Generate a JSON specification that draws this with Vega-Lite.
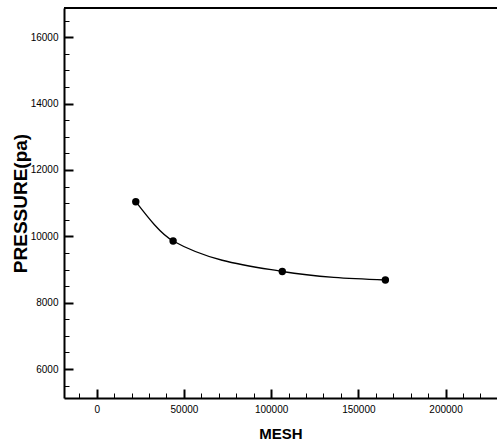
{
  "$schema": "https://vega.github.io/schema/vega-lite/v6.json",
  "width": 433,
  "height": 390,
  "autosize": {"type": "none"},
  "padding": {"left": 64, "top": 8, "right": 0, "bottom": 46},
  "background": "white",
  "config": {
    "view": {"stroke": null},
    "axis": {
      "labelFont": "Liberation Sans",
      "labelFontSize": 10,
      "labelColor": "#000000",
      "titleFont": "Liberation Sans",
      "titleFontWeight": "bold",
      "titleColor": "#000000",
      "domainColor": "#000000",
      "domainWidth": 2,
      "tickColor": "#000000",
      "grid": false,
      "labelFlush": false,
      "labelOverlap": false
    }
  },
  "data": {
    "values": [
      {"mesh": 22400, "pressure": 11044},
      {"mesh": 43800, "pressure": 9860},
      {"mesh": 106400, "pressure": 8940},
      {"mesh": 165500, "pressure": 8684}
    ]
  },
  "layer": [
    {
      "mark": {"type": "line", "interpolate": "monotone", "color": "#000000", "strokeWidth": 1.3},
      "encoding": {
        "x": {
          "field": "mesh", "type": "quantitative",
          "scale": {"domain": [-18750, 229500], "nice": false, "zero": false},
          "axis": {
            "orient": "bottom",
            "title": "MESH",
            "titleFontSize": 15,
            "titlePadding": 12,
            "format": "d",
            "tickCount": 200,
            "values": [-10000, 0, 10000, 20000, 30000, 40000, 50000, 60000, 70000, 80000, 90000, 100000, 110000, 120000, 130000, 140000, 150000, 160000, 170000, 180000, 190000, 200000, 210000, 220000],
            "labelExpr": "datum.value % 50000 === 0 ? datum.label : ''",
            "ticks": true,
            "tickSize": -9,
            "tickWidth": {"condition": {"test": "datum.value % 50000 === 0", "value": 2}, "value": 1},
            "tickDash": {"condition": {"test": "datum.value % 50000 === 0", "value": [9, 0]}, "value": [5, 20]},
            "labelPadding": 15
          }
        },
        "y": {
          "field": "pressure", "type": "quantitative",
          "scale": {"domain": [5127, 16883], "nice": false, "zero": false},
          "axis": {
            "orient": "left",
            "title": "PRESSURE(pa)",
            "titleFontSize": 19,
            "titlePadding": 0,
            "format": "d",
            "tickCount": 200,
            "values": [5500, 6000, 6500, 7000, 7500, 8000, 8500, 9000, 9500, 10000, 10500, 11000, 11500, 12000, 12500, 13000, 13500, 14000, 14500, 15000, 15500, 16000, 16500],
            "labelExpr": "datum.value % 2000 === 0 ? datum.label : ''",
            "ticks": true,
            "tickSize": -9,
            "tickWidth": {"condition": {"test": "datum.value % 2000 === 0", "value": 2}, "value": 1},
            "tickDash": {"condition": {"test": "datum.value % 2000 === 0", "value": [9, 0]}, "value": [5, 20]},
            "labelPadding": 15
          }
        }
      }
    },
    {
      "mark": {"type": "point", "filled": true, "color": "#000000", "opacity": 1, "size": 55},
      "encoding": {
        "x": {"field": "mesh", "type": "quantitative"},
        "y": {"field": "pressure", "type": "quantitative"}
      }
    },
    {
      "mark": {"type": "rule", "color": "#000000", "strokeWidth": 2},
      "encoding": {
        "y": {"datum": 16883, "type": "quantitative"}
      }
    }
  ]
}
